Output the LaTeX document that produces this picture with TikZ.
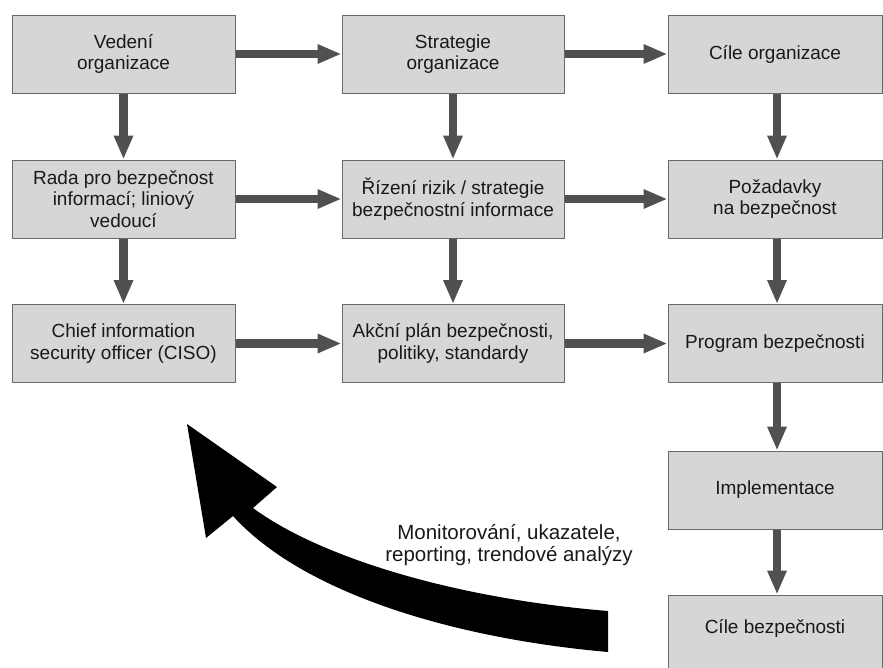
\documentclass[tikz,border=0pt]{standalone}
\usepackage{fontspec}
\setmainfont{Liberation Sans}
\usetikzlibrary{arrows.meta}
\definecolor{boxfill}{RGB}{214,214,214}
\definecolor{boxline}{RGB}{105,105,105}
\definecolor{flowgray}{RGB}{80,80,80}
\tikzset{
  stage/.style={draw=boxline, line width=1pt, fill=boxfill, align=center,
    text=black!90, inner sep=0pt, minimum height=78pt,
    font=\fontsize{19}{21.5}\selectfont},
  colA/.style={stage, minimum width=223pt},
  colB/.style={stage, minimum width=222pt},
  colC/.style={stage, minimum width=214pt},
  flow/.style={draw=flowgray, line width=8.5pt,
    -{Triangle[length=24pt, width=18pt]}, shorten >=0pt},
}
\begin{document}
\begin{tikzpicture}[x=1pt, y=-1pt]
\useasboundingbox (0,0) rectangle (883,667);
\begin{scope}
\clip (0,0) rectangle (883,667);

% first row
\node[colA] (ved)  at (123.5,54) {Vedení\\organizace};
\node[colB] (str)  at (453,54)   {Strategie\\organizace};
\node[colC] (cile) at (775,54)   {Cíle organizace};

% second row
\node[colA] (rada) at (123.5,199) {Rada pro bezpečnost\\informací; liniový\\vedoucí};
\node[colB] (riz)  at (453,199)   {Řízení rizik / strategie\\bezpečnostní informace};
\node[colC] (poz)  at (775,199)   {Požadavky\\na bezpečnost};

% third row
\node[colA] (ciso) at (123.5,343.5) {Chief information\\security officer (CISO)};
\node[colB] (akc)  at (453,343.5)   {Akční plán bezpečnosti,\\politiky, standardy};
\node[colC] (prog) at (775,343.5)   {Program bezpečnosti};

% right column continues downwards
\node[colC] (impl) at (775,490) {Implementace};
\node[colC, minimum height=77pt, text depth=14pt] (cbez) at (775,633.5) {Cíle bezpečnosti};

% horizontal flows
\draw[flow] (ved.east)  -- (str.west);
\draw[flow] (str.east)  -- (cile.west);
\draw[flow] (rada.east) -- (riz.west);
\draw[flow] (riz.east)  -- (poz.west);
\draw[flow] (ciso.east) -- (akc.west);
\draw[flow] (akc.east)  -- (prog.west);

% vertical flows
\draw[flow] (ved.south)  -- (rada.north);
\draw[flow] (rada.south) -- (ciso.north);
\draw[flow] (str.south)  -- (riz.north);
\draw[flow] (riz.south)  -- (akc.north);
\draw[flow] ([xshift=2pt]cile.south) -- ([xshift=2pt]poz.north);
\draw[flow] ([xshift=2pt]poz.south)  -- ([xshift=2pt]prog.north);
\draw[flow] ([xshift=2pt]prog.south) -- ([xshift=2pt]impl.north);
\draw[flow] ([xshift=2pt]impl.south) -- ([xshift=2pt]cbez.north);

% feedback arrow
\coordinate (tailtop) at (608,611);
\coordinate (tailbot) at (608,652);
\fill[black] (tailtop) -- (tailbot)
  .. controls (450,638) and (302,592) .. (233,516)
  -- (206,538) -- (187,424) -- (277,487) -- (253,508)
  .. controls (318,556) and (450,598) .. (tailtop) -- cycle;
\node[align=center, font=\fontsize{20.5}{22.5}\selectfont, text=black!90] (mon)
  at (509,545) {Monitorování, ukazatele,\\reporting, trendové analýzy};
\end{scope}
\end{tikzpicture}
\end{document}
